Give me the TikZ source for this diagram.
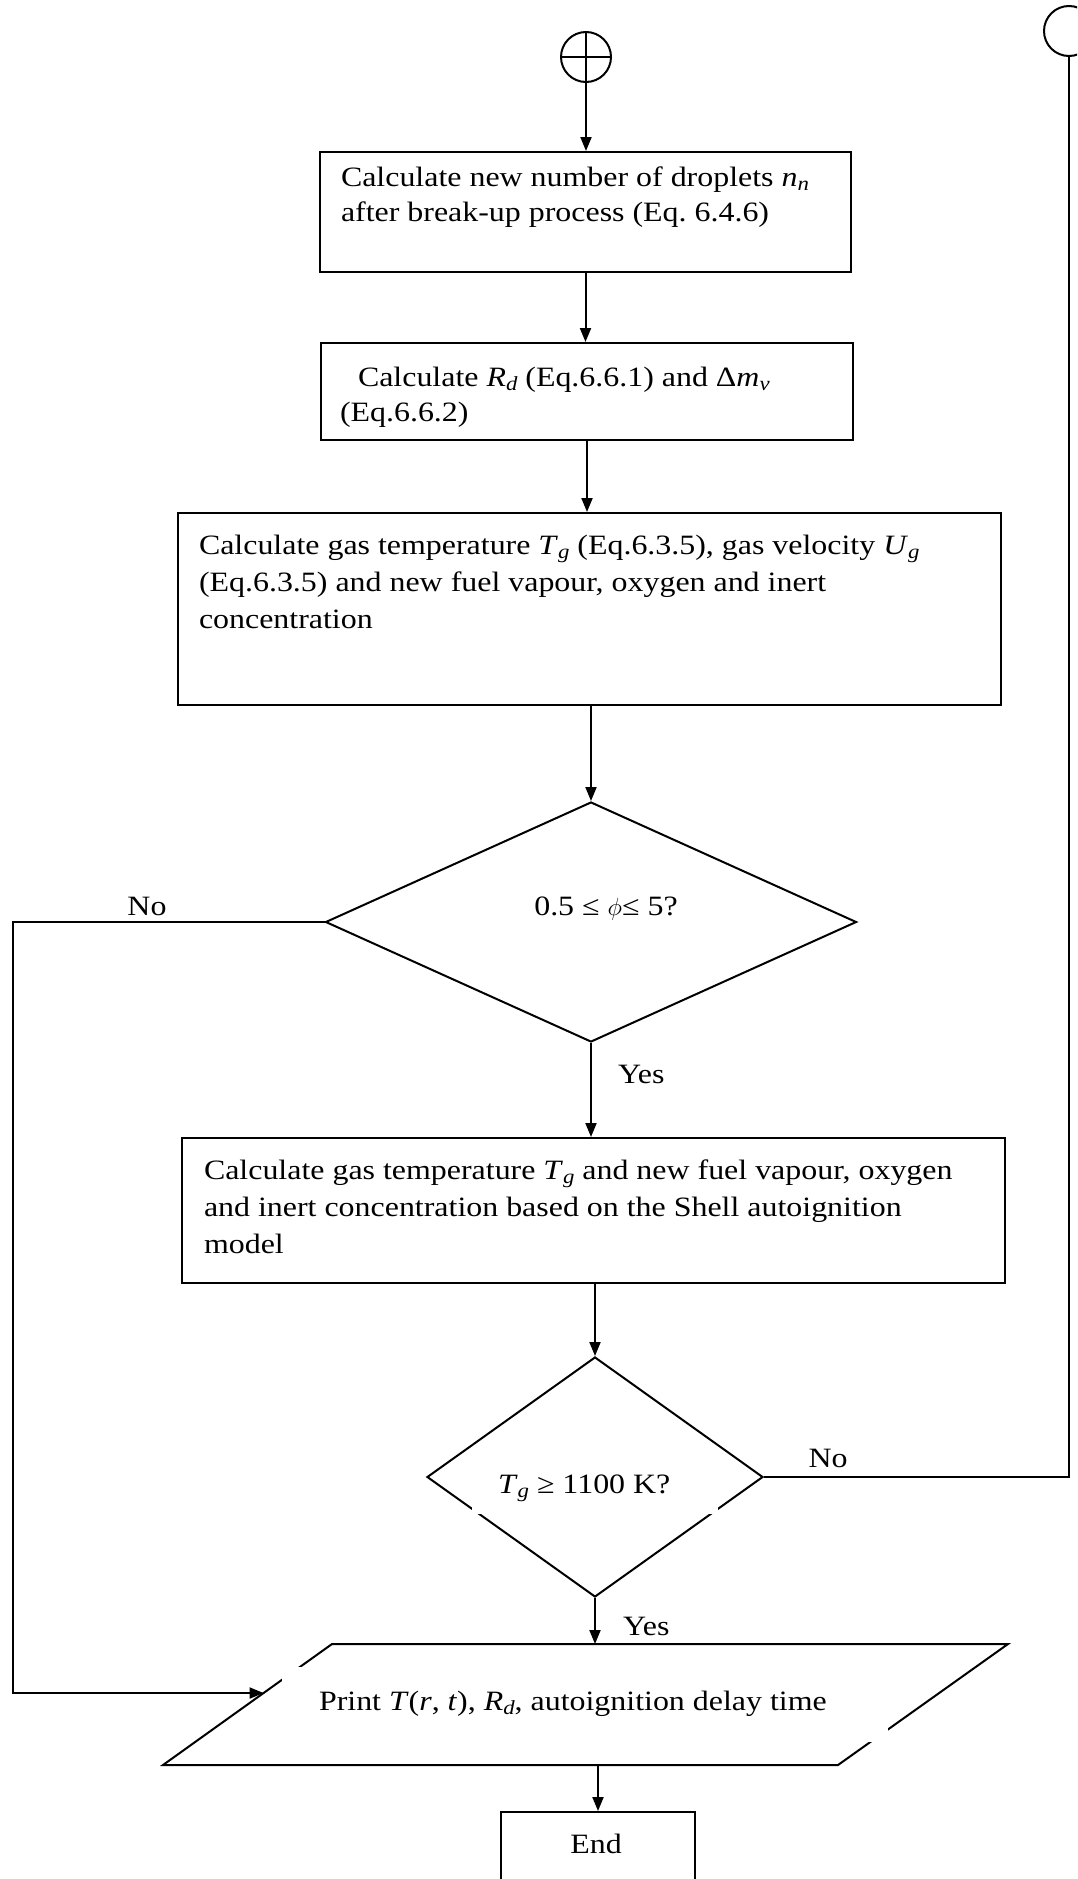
\documentclass[tikz,border=0pt]{standalone}
\usepackage{fontspec}
\setmainfont{Liberation Serif}[FakeStretch=1.14]
\usetikzlibrary{arrows.meta,shapes.geometric,calc}
\newcommand\mysub[1]{\raisebox{-4.5pt}{\fontsize{20}{20}\selectfont\itshape #1}}
\newcommand\iv[1]{\textit{#1}}
\begin{document}
\begin{tikzpicture}[x=1pt,y=-1pt, line width=2pt,
  every node/.style={font=\fontsize{28}{37}\selectfont},
  box/.style={draw, rectangle, inner sep=0pt},
  dia/.style={draw, diamond, inner sep=0pt},
  term/.style={draw, circle, inner sep=0pt, minimum size=50pt},
  txt/.style={anchor=north west, inner sep=0pt, align=left},
  lbl/.style={inner sep=0pt, anchor=base},
  wbox/.style={fill=white, draw=none, inner sep=0pt},
  arr/.style={-{Triangle[length=14pt,width=11pt]}}]
\useasboundingbox (0,0) rectangle (1077,1879);
\fill[white] (0,0) rectangle (1077,1879);
\clip (0,0) rectangle (1077,1879);

% terminals
\node[term] (s) at (586,57) {};
\draw (s.north) -- (s.south);
\draw (s.west) -- (s.east);
\node[term] (c2) at (1069,31) {};

% box 1
\node[box, minimum width=531pt, minimum height=120pt] (b1) at (585.5,212) {};
\node[txt, font=\fontsize{28}{35}\selectfont] (t1) at (340,160.5)
  {\strut Calculate new number of droplets \iv{n}\mysub{n}\\after break-up process (Eq.\ 6.4.6)};

% box 2
\node[box, minimum width=532pt, minimum height=97pt] (b2) at (587,391.5) {};
\node[txt, font=\fontsize{28}{35}\selectfont] (t2) at (339,360.5)
  {\strut\hspace*{18pt}Calculate \iv{R}\mysub{d} (Eq.6.6.1) and Δ\iv{m}\mysub{v}\\(Eq.6.6.2)};

% box 3
\node[box, minimum width=823pt, minimum height=192pt] (b3) at (589.5,609) {};
\node[txt] (t3) at (198,527.1)
  {\strut Calculate gas temperature \iv{T}\mysub{g} (Eq.6.3.5), gas velocity \iv{U}\mysub{g}\\(Eq.6.3.5) and new fuel vapour, oxygen and inert\\concentration};

% decision 1
\node[dia, minimum width=531pt, minimum height=240pt] (d1) at (591,922) {};
\node[lbl] (q1) at (606,915) {0.5 ≤ $\phi$≤ 5?};

% box 4
\node[box, minimum width=823pt, minimum height=145pt] (b4) at (593.5,1210.5) {};
\node[txt] (t4) at (203,1152.1)
  {\strut Calculate gas temperature \iv{T}\mysub{g} and new fuel vapour, oxygen\\and inert concentration based on the Shell autoignition\\model};

% decision 2
\node[dia, minimum width=336pt, minimum height=240pt] (d2) at (595,1477) {};
\node[wbox, minimum width=246pt, minimum height=54pt] (q2box) at (595,1487) {};
\node[lbl, anchor=base west] (q2) at (497,1493) {\iv{T}\mysub{g} ≥ 1100 K?};

% output parallelogram
\coordinate (pTL) at (332,1644);
\coordinate (pTR) at (1008,1644);
\coordinate (pBR) at (838,1765);
\coordinate (pBL) at (163,1765);
\draw (pTL) -- (pTR) -- (pBR) -- (pBL) -- cycle;
\node[wbox, minimum width=606pt, minimum height=75pt] (pbox) at (585,1704.5) {};
\node[lbl, anchor=base west] (pt) at (318,1710)
  {Print \iv{T}(\iv{r}, \iv{t}), \iv{R}\mysub{d}, autoignition delay time};
\coordinate (pin) at ($(pTL)!0.405!(pBL)$);
\coordinate (pbot) at (598,1765);

% end
\node[box, minimum width=194pt, minimum height=100pt] (end) at (598,1862) {};
\node[lbl] (te) at (596,1853) {End};

% labels
\node[lbl] (no1) at (147,915) {No};
\node[lbl, anchor=base west] (yes1) at (617,1083) {Yes};
\node[lbl] (no2) at (828,1467) {No};
\node[lbl, anchor=base west] (yes2) at (622,1635) {Yes};

% connectors
\draw[arr] (s.south) -- (s.south |- b1.north);
\draw[arr] (b1.south) -- (b1.south |- b2.north);
\draw[arr] (b2.south) -- (b2.south |- b3.north);
\draw[arr] (d1.north |- b3.south) -- (d1.north);
\draw[arr] (d1.south) -- (d1.south |- b4.north);
\draw[arr] (d2.north |- b4.south) -- (d2.north);
\draw[arr] (d2.south) -- (d2.south |- pTL);
\draw[arr] (pbot) -- (pbot |- end.north);
\coordinate (lc) at (13,1000);
\draw[arr] (d1.west) -- (d1.west -| lc) -- (lc |- pin) -- (pin);
\draw (d2.east) -- (d2.east -| c2.south) -- (c2.south);
\end{tikzpicture}
\end{document}
